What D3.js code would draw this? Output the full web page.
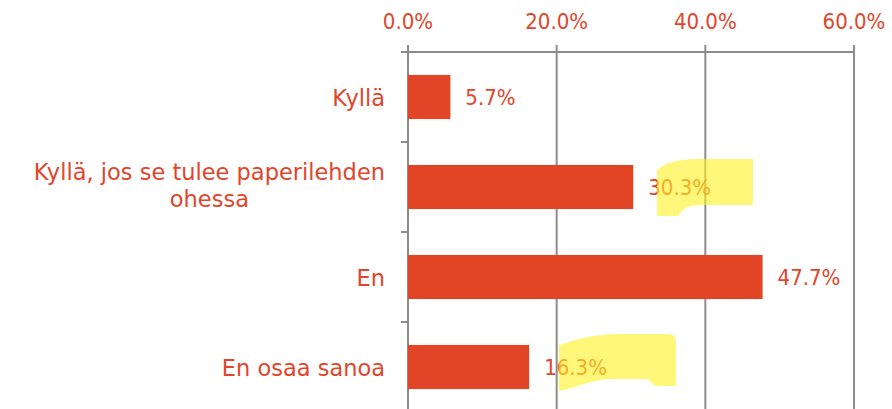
<!DOCTYPE html>
<html>
<head>
<meta charset="utf-8">
<script src="https://cdn.jsdelivr.net/npm/d3@7"></script>
<style>
  body { margin: 0; background: #fff; }
  text { font-family: "DejaVu Sans", sans-serif; font-size: 22.5px; fill: #e2452a; }
  text.num { font-family: "DejaVu Sans Condensed", "DejaVu Sans", sans-serif; font-stretch: condensed; font-size: 22px; }
</style>
</head>
<body>
<svg id="vis" width="892" height="409"></svg>
<script>
const categories = ["Kyllä", "Kyllä, jos se tulee paperilehden|ohessa", "En", "En osaa sanoa"];
const values = [5.7, 30.3, 47.7, 16.3];
const ticks = [0, 20, 40, 60];

const svg = d3.select('#vis');
const barColor = "#e24525";
const gridColor = "#8c8c8c";

const x = d3.scaleLinear().domain([0, 60]).range([408, 854]);
const y = d3.scaleBand().domain(categories).range([52, 412]).paddingInner(0.51).paddingOuter(0.255);
const band = d3.scaleBand().domain(categories).range([52, 412]);

// gridlines
svg.selectAll(".grid")
    .data(ticks)
    .enter().append("line")
    .attr("x1", d => x(d)).attr("x2", d => x(d))
    .attr("y1", 45).attr("y2", 409)
    .attr("stroke", gridColor).attr("stroke-width", 2);

// top axis line
svg.append("line")
    .attr("x1", 401).attr("x2", x(60))
    .attr("y1", 52).attr("y2", 52)
    .attr("stroke", gridColor).attr("stroke-width", 2);

// y ticks
svg.selectAll(".ytick")
    .data(categories.slice(1))
    .enter().append("line")
    .attr("x1", 401).attr("x2", 408)
    .attr("y1", d => band(d)).attr("y2", d => band(d))
    .attr("stroke", gridColor).attr("stroke-width", 2);

// tick labels
svg.selectAll(".xlab")
    .data(ticks)
    .enter().append("text")
    .attr("class", "num")
    .attr("x", d => x(d)).attr("y", 29)
    .attr("text-anchor", "middle")
    .text(d => d.toFixed(1) + "%");

// bars
svg.selectAll(".bar")
    .data(values)
    .enter().append("rect")
    .attr("x", x(0))
    .attr("y", (d, i) => y(categories[i]))
    .attr("width", d => x(d) - x(0))
    .attr("height", y.bandwidth())
    .attr("fill", barColor);

// value labels
svg.selectAll(".val")
    .data(values)
    .enter().append("text")
    .attr("class", "num")
    .attr("x", d => x(d) + 15)
    .attr("y", (d, i) => band(categories[i]) + band.bandwidth() / 2)
    .attr("dy", "0.38em")
    .text(d => d.toFixed(1) + "%");

// category labels
categories.forEach(function (c) {
    var lines = c.split("|");
    var cy = band(c) + band.bandwidth() / 2;
    if (lines.length == 1) {
        svg.append("text")
            .attr("x", 385).attr("y", cy).attr("dy", "0.38em")
            .attr("text-anchor", "end")
            .text(lines[0]);
    } else {
        var t1 = svg.append("text")
            .attr("x", 385).attr("y", cy - 7)
            .attr("text-anchor", "end")
            .text(lines[0]);
        var w = t1.node().getComputedTextLength();
        svg.append("text")
            .attr("x", 385 - w / 2).attr("y", cy + 20)
            .attr("text-anchor", "middle")
            .text(lines[1]);
    }
});

// highlighter marks
const marks = [
    "M657,170 C668,160 685,159 705,159 L753,159 L753,205 L702,205 C690,205 682,208 678,216 L657,216 Z",
    "M559,345 C575,340 590,335 615,334 L668,334 C674,334 676,338 676,342 L676,386 L657,386 C652,386 652,379 645,379 L610,379 C590,380 575,388 559,391 Z"
];
svg.selectAll(".hl")
    .data(marks)
    .enter().append("path")
    .attr("d", d => d)
    .attr("fill", "rgb(255,242,33)")
    .attr("opacity", 0.6);
</script>
</body>
</html>
